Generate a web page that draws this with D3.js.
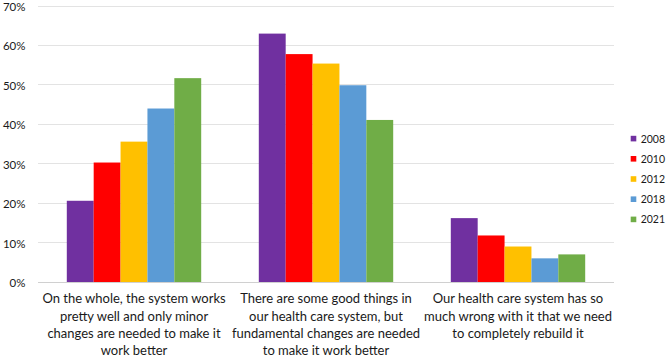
<!DOCTYPE html>
<html><head><meta charset="utf-8">
<script src="https://cdn.jsdelivr.net/npm/d3@7"></script>
<style>body{margin:0;background:#fff}svg{display:block}text{font-family:Lato,"Open Sans",sans-serif;fill:#1a1a1a}</style>
</head><body><svg id="c" width="666" height="358"></svg>
<script>
const categories = [
  ["On the whole, the system works","pretty well and only minor","changes are needed to make it","work better"],
  ["There are some good things in","our health care system, but","fundamental changes are needed","to make it work better"],
  ["Our health care system has so","much wrong with it that we need","to completely rebuild it"]
];
const years = ["2008","2010","2012","2018","2021"];
const colors = ["#7030a0","#ff0000","#ffc000","#5b9bd5","#70ad47"];
const v2008 = [20.6, 63.0, 16.2];
const v2010 = [30.3, 57.8, 11.8];
const v2012 = [35.6, 55.4, 9.0];
const v2018 = [44.0, 49.9, 6.0];
const v2021 = [51.7, 41.1, 7.0];
const series = [v2008, v2010, v2012, v2018, v2021];
const yTicks = [0,10,20,30,40,50,60,70];

(function(){
const svg = d3.select("#c");
const L = 38, R = 614, T = 6, B = 282;
const x0 = d3.scaleBand().domain(d3.range(categories.length)).range([L,R]).paddingInner(0.3).paddingOuter(0.15);
const x1 = d3.scaleBand().domain(d3.range(years.length)).range([0,x0.bandwidth()]);
const y = d3.scaleLinear().domain([0,70]).range([B,T]);

svg.append("g").selectAll("line").data(yTicks).join("line")
  .attr("x1",L).attr("x2",R).attr("y1",d=>y(d)).attr("y2",d=>y(d))
  .attr("stroke",d=>d===0?"#d0d0d0":"#e3e3e3").attr("stroke-width",1).attr("shape-rendering","crispEdges");
svg.append("g").selectAll("text").data(yTicks).join("text")
  .attr("x",25.5).attr("y",d=>y(d)+1).attr("dy","0.35em").attr("text-anchor","end")
  .attr("font-size",11.5).text(d=>d+"%");

const g = svg.append("g");
series.forEach((s,si)=>{
  g.append("g").selectAll("rect").data(s).join("rect")
    .attr("x",(d,i)=>x0(i)+x1(si)).attr("width",x1.bandwidth())
    .attr("y",d=>y(d)).attr("height",d=>y(0)-y(d)).attr("fill",colors[si]);
});

const lab = svg.append("g");
categories.forEach((lines,i)=>{
  const t = lab.append("g").attr("transform",`translate(${x0(i)+x0.bandwidth()/2},0) scale(1.04,1)`)
    .append("text").attr("text-anchor","middle").attr("font-size",12.5);
  lines.forEach((l,j)=>t.append("tspan").attr("x",0).attr("y",303.5+j*17.3).text(l));
});

const leg = svg.append("g");
years.forEach((yr,i)=>{
  const cy = 138.6 + i*20.2;
  leg.append("rect").attr("x",630.7).attr("y",cy-2.8).attr("width",5.6).attr("height",5.6).attr("fill",colors[i]);
  leg.append("text").attr("x",640.7).attr("y",cy+0.3).attr("dy","0.35em").attr("font-size",10.5).text(yr);
});
})();
</script></body></html>
